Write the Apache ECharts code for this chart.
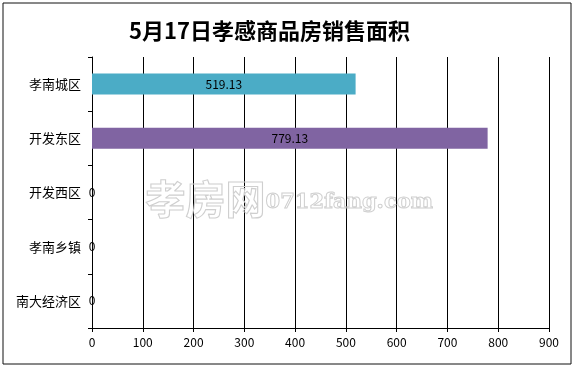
<!DOCTYPE html>
<html><head><meta charset="utf-8">
<script src="https://cdn.jsdelivr.net/npm/echarts@6/dist/echarts.min.js"></script>
<style>html,body{margin:0;padding:0;background:#fff}#c{width:576px;height:366px}</style>
</head><body><div id="c"></div>
<script>
const categories = ['孝南城区', '开发东区', '开发西区', '孝南乡镇', '南大经济区'];
const values = [519.13, 779.13, 0, 0, 0];
const barColors = ['#4BACC6', '#8064A2', '#4F81BD', '#9BBB59', '#F79646'];
const xTicks = { min: 0, max: 900, interval: 100 };
const titleText = '5月17日孝感商品房销售面积';

const chart = echarts.init(document.getElementById('c'), null, { renderer: 'canvas' });
const font = '"Noto Sans CJK SC", "DejaVu Sans", sans-serif';
chart.setOption({
  animation: false,
  backgroundColor: '#fff',
  title: {
    text: titleText, left: 124, top: 15,
    textStyle: { fontSize: 22, fontWeight: 'bold', color: '#000', fontFamily: font }
  },
  graphic: [
    { type: 'rect', shape: { x: 3, y: 3, width: 568, height: 361 }, style: { fill: 'none', stroke: '#111', lineWidth: 1 }, z: 100 },
    { type: 'text', left: 145, top: 178, z: 1, silent: true,
      style: { text: '{a|孝房网}{b|0712fang.com}', rich: {
        a: { fontSize: 40, fontFamily: font, fill: 'rgba(255,255,255,0)', stroke: '#cfcfcf', lineWidth: 1.1, fontWeight: 'bold' },
        b: { fontSize: 21, fontFamily: '"DejaVu Serif", serif', fill: 'rgba(255,255,255,0)', stroke: '#cfcfcf', lineWidth: 1, fontWeight: 'bold', padding: [8, 0, 0, 0] }
      } } }
  ],
  grid: { left: 92, right: 27, top: 57, bottom: 38 },
  xAxis: {
    type: 'value', min: xTicks.min, max: xTicks.max, interval: xTicks.interval,
    axisLine: { show: true, lineStyle: { color: '#000', width: 1 } },
    axisTick: { show: true, length: 4, lineStyle: { color: '#000' } },
    axisLabel: { color: '#000', fontSize: 12, margin: 8, fontFamily: font },
    splitLine: { show: true, lineStyle: { color: '#000', width: 1 } }
  },
  yAxis: {
    type: 'category', data: categories, inverse: true,
    axisLine: { show: true, lineStyle: { color: '#000', width: 1 } },
    axisTick: { show: true, length: 4, alignWithLabel: false, lineStyle: { color: '#000' } },
    axisLabel: { color: '#000', fontSize: 13, margin: 11, fontFamily: font },
    splitLine: { show: false }
  },
  series: [{
    type: 'bar', barWidth: 21, z: 5,
    data: values.map((v, i) => ({ value: v, itemStyle: { color: barColors[i] } })),
    label: { show: true, position: 'inside', color: '#000', fontSize: 12, fontFamily: font }
  }]
});
</script></body></html>
